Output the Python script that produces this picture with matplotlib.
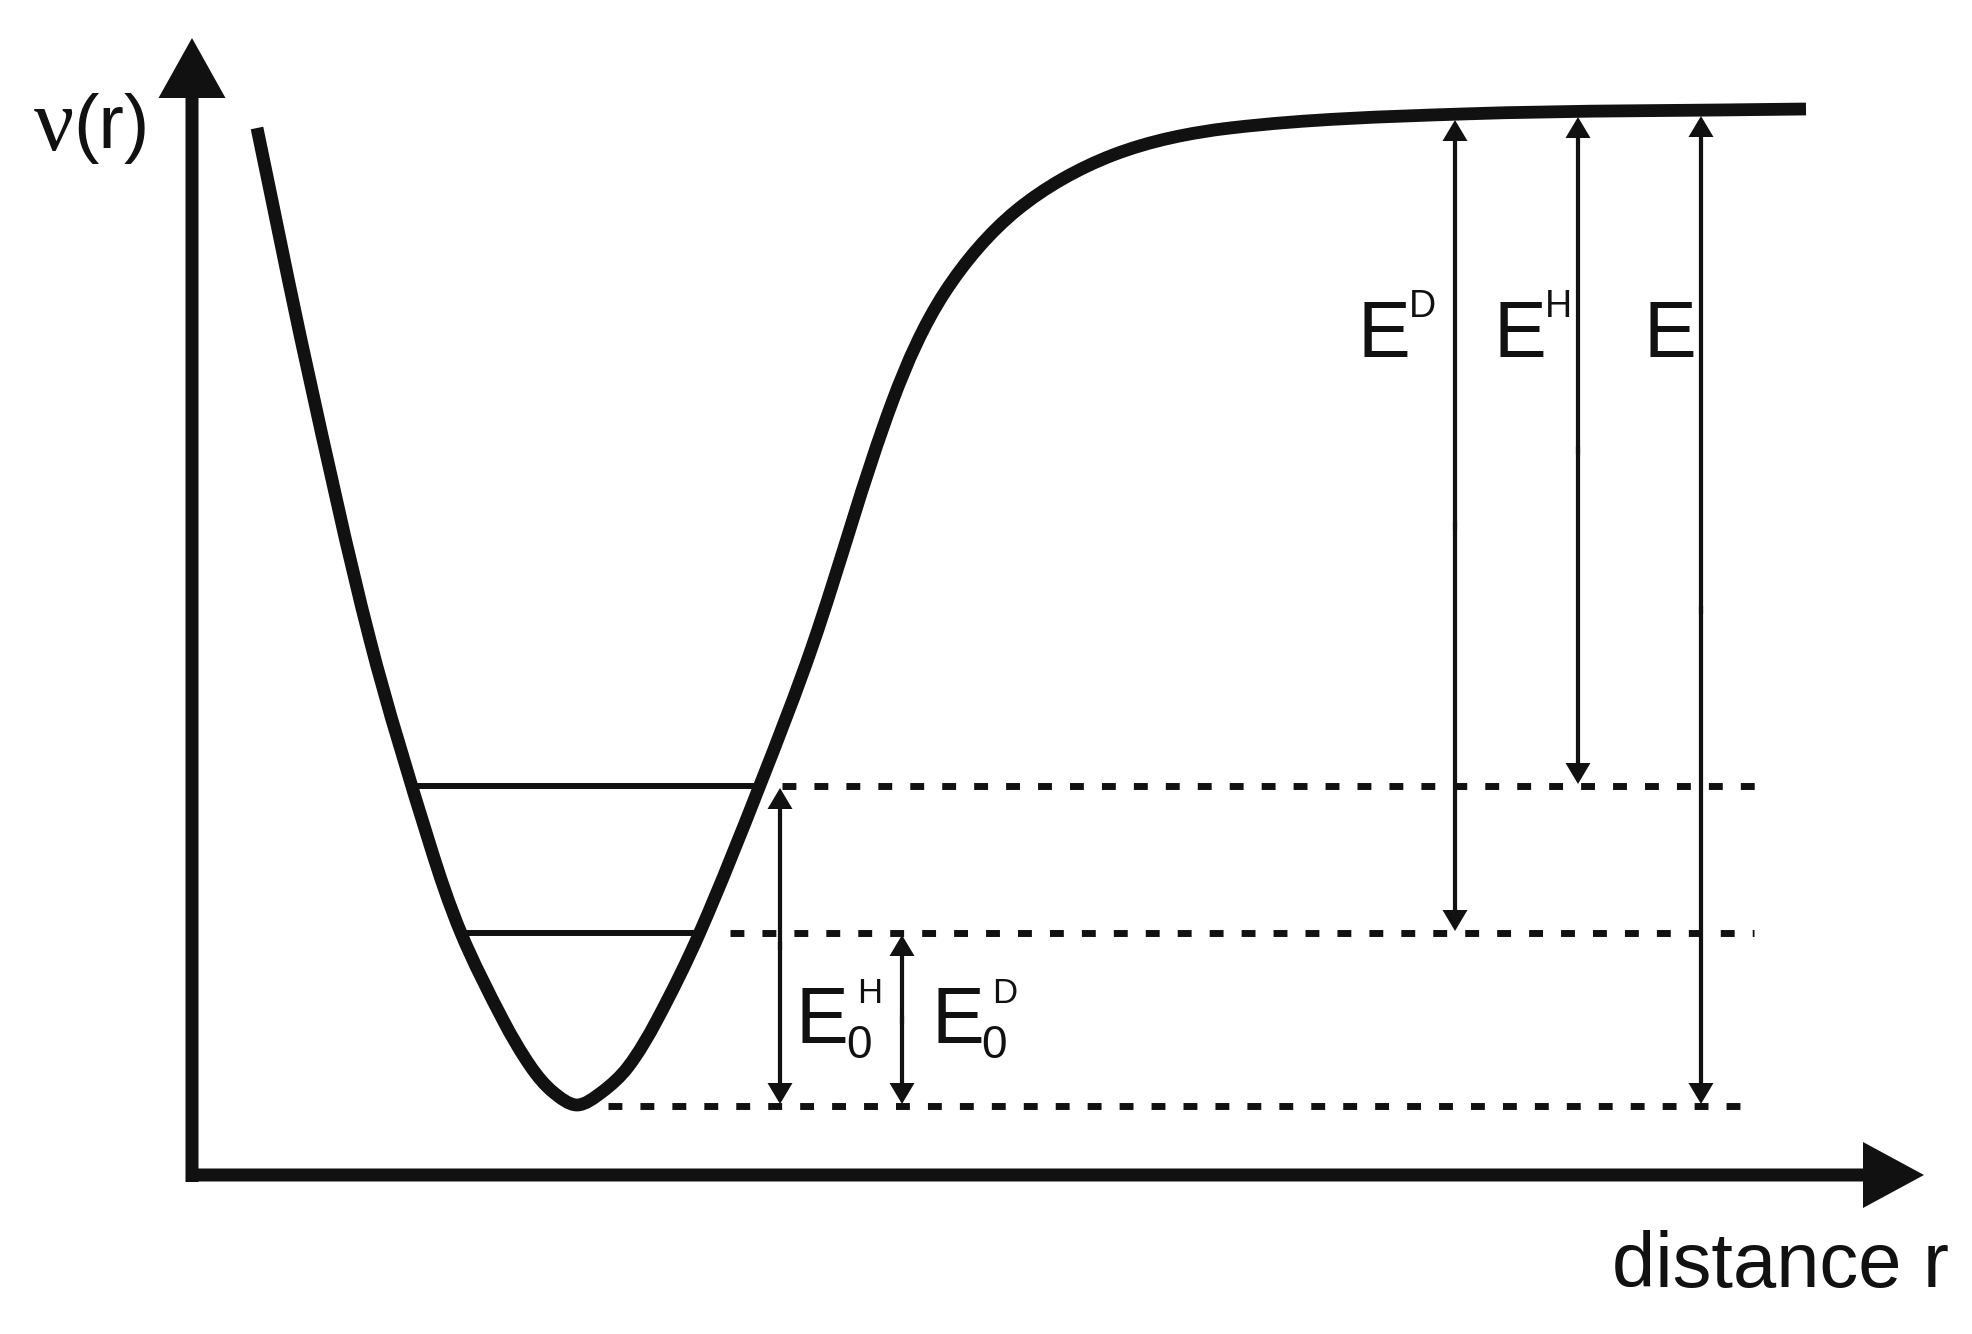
import matplotlib
matplotlib.use("Agg")
import numpy as np
import matplotlib.pyplot as plt
from matplotlib.path import Path
from matplotlib.patches import PathPatch

# potential curve (pixel coords, y down)
curve_r = [257, 307, 370, 430, 461, 503, 531, 553, 577, 602, 628, 657, 700,
           760, 812, 893, 945, 1017, 1113, 1230, 1462, 1806]
curve_v = [128, 367, 640, 845, 933, 1020, 1067, 1092, 1105, 1092, 1067, 1020, 932,
           785, 647, 400, 292, 210, 155, 128, 114, 109]

# vibrational levels: solid inside the well, dashed to the right
level_y = [786, 933, 1106]
solid_start = [412, 462]
solid_end = [760, 700]
dash_start = [782, 730, 608]
dash_end = [1760, 1754, 1758]

# double-headed energy arrows
arrow_x = [780, 902, 1455, 1578, 1701]
arrow_top = [788, 935, 120, 117, 116]
arrow_bottom = [1104, 1104, 931, 784, 1104]

# labels: (x, baseline, text)
main_labels = [(1357, 357, "E"), (1494, 357, "E"), (1644, 357, "E"),
               (796, 1043, "E"), (931, 1043, "E")]
sup_labels = [(1409, 317, "D", 27), (1545, 317, "H", 27),
              (857, 1003, "H", 25), (992, 1003, "D", 25)]
sub_labels = [(846, 1058, "0"), (981, 1058, "0")]

INK = "#111111"
W, H = 1972, 1334


def smooth_path(xs, ys):
    # chord-length Catmull-Rom through the read points, drawn as cubic Beziers
    P = np.column_stack([xs, ys]).astype(float)
    n = len(P)
    d = np.hypot(*np.diff(P, axis=0).T)
    T = np.zeros_like(P)
    T[0] = (P[1] - P[0]) / d[0]
    T[-1] = (P[-1] - P[-2]) / d[-1]
    for i in range(1, n - 1):
        T[i] = (P[i + 1] - P[i - 1]) / (d[i - 1] + d[i])
    verts = [P[0]]
    codes = [Path.MOVETO]
    for i in range(n - 1):
        verts += [P[i] + T[i] * d[i] / 3, P[i + 1] - T[i + 1] * d[i] / 3, P[i + 1]]
        codes += [Path.CURVE4] * 3
    return Path(verts, codes)


fig = plt.figure(figsize=(W / 100, H / 100), dpi=100)
ax = fig.add_axes([0, 0, 1, 1])
ax.set_xlim(0, W)
ax.set_ylim(H, 0)
ax.axis("off")

# axes with big arrowheads
ax.arrow(192, 1182, 0, 38 - 1182, width=13, head_width=67, head_length=60,
         length_includes_head=True, color=INK, lw=0)
ax.arrow(186, 1175, 1924 - 186, 0, width=13, head_width=66, head_length=61,
         length_includes_head=True, color=INK, lw=0)

# the potential
ax.add_patch(PathPatch(smooth_path(curve_r, curve_v), fill=False, edgecolor=INK,
                       lw=9.2, capstyle="butt", joinstyle="round"))

for y, x0, x1 in zip(level_y, solid_start, solid_end):
    ax.plot([x0, x1], [y, y], color=INK, lw=4.3, solid_capstyle="butt")

for y, x0, x1 in zip(level_y, dash_start, dash_end):
    ax.plot([x0, x1], [y, y], color=INK, lw=5, linestyle=(0, (2, 2.6)),
            dash_capstyle="butt")

for x, y0, y1 in zip(arrow_x, arrow_top, arrow_bottom):
    mid = (y0 + y1) / 2
    # two half arrows that overlap a little so no seam shows
    ax.arrow(x, mid + 4, 0, y0 - mid - 4, width=4.2, head_width=25, head_length=21,
             length_includes_head=True, color=INK, lw=0)
    ax.arrow(x, mid - 4, 0, y1 - mid + 4, width=4.2, head_width=25, head_length=21,
             length_includes_head=True, color=INK, lw=0)

sans = "Liberation Sans"
for x, y, s in main_labels:
    ax.text(x, y, s, fontsize=57, family=sans, color=INK, va="baseline", ha="left")
for x, y, s, fs in sup_labels:
    ax.text(x, y, s, fontsize=fs, family=sans, color=INK, va="baseline", ha="left")
for x, y, s in sub_labels:
    ax.text(x, y, s, fontsize=33, family=sans, color=INK, va="baseline", ha="left")

ax.text(1612, 1287, "distance r", fontsize=56, family=sans, color=INK,
        va="baseline", ha="left")
ax.text(34, 150, "ν", fontsize=64, family="Liberation Serif", color=INK,
        va="baseline", ha="left")
ax.text(73, 148, "(r)", fontsize=55, family=sans, color=INK,
        va="baseline", ha="left")

fig.savefig("out.png", dpi=100, facecolor="white")
